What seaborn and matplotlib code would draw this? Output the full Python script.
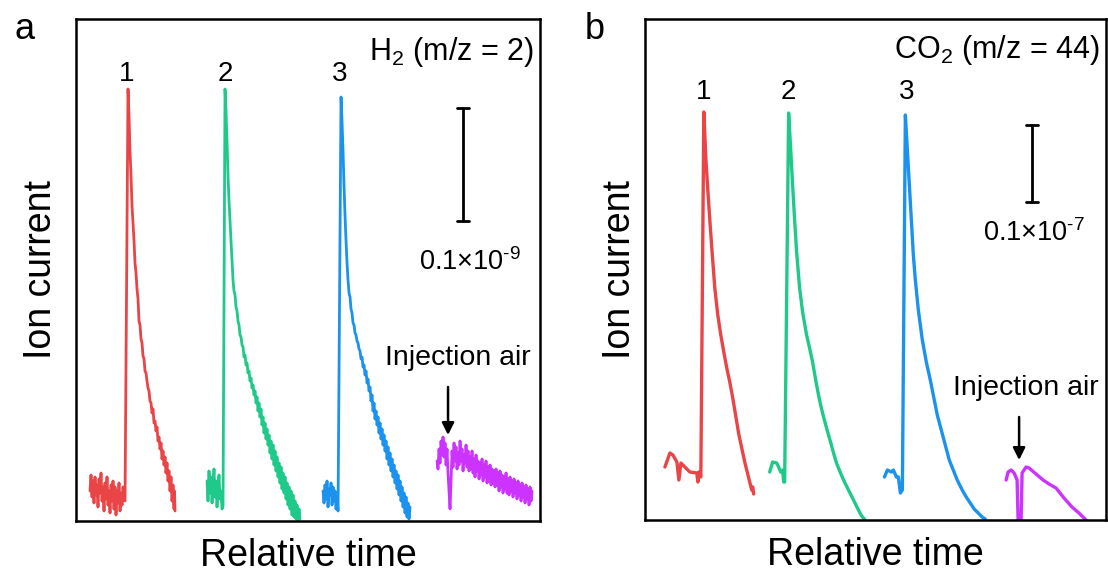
import numpy as np
import pandas as pd
import matplotlib
matplotlib.use("Agg")
import matplotlib.pyplot as plt
import seaborn as sns

# ── data (relative time, ion current; arbitrary units) ──
# panel a : H2
a_red_t = [14, 15, 16, 17, 18, 19, 20, 21, 22, 23, 24, 25, 26, 27, 28, 29, 30, 31, 32, 33,
           34, 35, 36, 37, 38, 39, 40, 41, 42, 43, 44, 45, 46, 47, 48, 49, 52,
           53, 54, 55, 56, 57, 58, 59, 60, 61, 62, 63, 64, 65, 66, 67, 68, 69, 70,
           71, 72, 73, 74, 75, 76, 77, 78, 79, 80, 81, 82, 83, 84, 85, 86, 87, 88,
           89, 90, 91, 92, 93, 94, 95, 96, 97, 98, 98.5, 99]
a_red_i = [30, 46, 24, 40, 18, 44, 26, 36, 14, 42, 28, 48, 20, 34, 10, 38, 22, 44, 16, 30,
           8, 36, 20, 40, 12, 34, 6, 30, 18, 38, 10, 28, 16, 34, 22, 20, 432,
           405, 370, 345, 315, 298, 280, 258, 248, 232, 222, 200, 196, 182, 178, 165, 162, 150, 148,
           140, 133, 130, 120, 118, 108, 112, 98, 100, 90, 94, 80, 84, 72, 78, 62, 70, 56,
           64, 48, 58, 40, 50, 30, 44, 20, 36, 12, 30, 10]

a_green_t = [131, 132, 133, 134, 135, 136, 137, 138, 139, 140, 141, 142, 143, 144, 145, 146,
             147, 149, 150, 151, 152, 153, 154, 155, 157, 158, 159, 160, 161, 162, 163, 164,
             165, 166, 167, 168, 169, 170, 171, 172, 173, 174, 175, 176, 177, 178, 179, 180,
             181, 182, 183, 184, 185, 186, 187, 188, 189, 190, 191, 192, 193, 194, 195, 196,
             197, 198, 199, 200, 201, 202, 203, 204, 205, 206, 207, 208, 209, 210, 211, 212,
             213, 214, 215, 216, 217, 218, 219, 220, 221, 222, 223, 224]
a_green_i = [40, 20, 50, 28, 44, 18, 36, 52, 24, 40, 14, 34, 46, 22, 30, 12,
             15, 432, 410, 380, 345, 320, 300, 280, 241, 230, 226, 214, 210, 200, 196, 186,
             184, 176, 174, 164, 166, 156, 158, 148, 150, 140, 143, 133, 136, 126, 130, 118,
             124, 110, 118, 104, 112, 96, 104, 88, 98, 82, 92, 76, 86, 68, 80, 62,
             76, 56, 70, 50, 64, 44, 58, 38, 54, 32, 48, 28, 44, 22, 38, 16,
             34, 12, 30, 6, 26, 4, 20, 2, 16, 0, 12, 2]

a_blue_t = [247, 248, 249, 250, 251, 252, 253, 254, 255, 256, 257, 258, 259, 260, 261,
            262, 265, 266, 267, 268, 269, 270, 271, 272, 273, 274, 275, 276, 277, 278, 279,
            280, 281, 282, 283, 284, 285, 286, 287, 288, 289, 290, 291, 292, 293, 294, 295,
            296, 297, 298, 299, 300, 301, 302, 303, 304, 305, 306, 307, 308, 309, 310, 311,
            312, 313, 314, 315, 316, 317, 318, 319, 320, 321, 322, 323, 324, 325, 326, 327,
            328, 329, 330, 331, 332, 333, 334]
a_blue_i = [30, 18, 36, 22, 40, 14, 32, 26, 38, 16, 34, 20, 30, 12, 24,
            10, 424, 400, 370, 335, 305, 280, 258, 241, 228, 224, 212, 208, 198, 196, 188,
            186, 180, 178, 172, 170, 162, 164, 154, 156, 146, 150, 138, 142, 130, 134, 120,
            126, 110, 118, 102, 110, 96, 104, 88, 98, 82, 92, 76, 86, 70, 80, 62,
            74, 56, 68, 50, 62, 44, 56, 38, 50, 32, 46, 26, 40, 20, 34, 14,
            28, 8, 24, 4, 18, 2, 14]

a_air_t = list(range(361, 457))
a_air_i = [60, 52, 72, 58, 80, 66, 84, 64, 78, 56, 72, 48, 30, 12, 40, 70, 54, 78, 60, 74,
           52, 68, 56, 80, 60, 72, 50, 66, 58, 76, 54, 70, 50, 64, 52, 70, 48, 62, 44, 66,
           50, 60, 42, 58, 46, 62, 40, 56, 44, 60, 38, 54, 40, 56, 36, 52, 38, 50, 34, 52,
           36, 48, 30, 50, 34, 46, 28, 44, 32, 48, 28, 42, 26, 44, 30, 40, 24, 42, 28, 38,
           22, 40, 26, 36, 20, 38, 24, 34, 18, 36, 22, 32, 16, 34, 20, 30]

# panel b : CO2
b_red_t = [20, 25, 28, 32, 34, 36, 40, 45, 52, 53, 54, 56, 59, 61, 63, 65, 67, 70, 73, 76,
           79, 82, 85, 88, 91, 94, 97, 100, 103, 105, 107, 108, 109]
b_red_i = [53, 67, 65, 58, 40, 57, 53, 48, 47, 38, 48, 43, 408, 362, 330, 300, 272, 232, 205, 185,
           168, 152, 138, 122, 104, 86, 72, 58, 46, 38, 30, 33, 26]

b_green_t = [125, 128, 132, 134, 136, 138, 139, 140, 144, 146, 148, 150, 152, 155, 158, 162,
             165, 168, 172, 175, 178, 182, 186, 189, 192, 196, 200, 204, 208, 211, 214, 216,
             218, 220]
b_green_i = [48, 58, 57, 53, 48, 50, 38, 38, 407, 372, 335, 300, 268, 232, 208, 185,
             172, 158, 135, 120, 107, 92, 78, 67, 57, 47, 38, 30, 22, 16, 10, 6,
             3, 1]

b_blue_t = [240, 243, 247, 249, 252, 254, 256, 258, 261, 263, 265, 267, 269, 271, 274, 278,
            282, 286, 290, 293, 297, 301, 305, 309, 313, 318, 322, 326, 330, 334, 338, 341]
b_blue_i = [43, 50, 48, 50, 43, 43, 27, 30, 405, 370, 335, 300, 265, 240, 210, 180,
            158, 140, 120, 105, 90, 75, 60, 50, 40, 30, 23, 17, 11, 7, 3, 1]

b_air_t = [362, 364, 367, 370, 373, 374, 377, 378, 382, 385, 392, 399, 405, 412, 420, 428,
           435, 442]
b_air_i = [40, 48, 50, 47, 40, 0, 0, 47, 53, 52, 46, 40, 36, 32, 22, 13, 7, 0]

peak_labels = ["1", "2", "3"]
a_peak_t = [51, 149, 264]
b_peak_t = [59, 144, 262]
colors = ["#E94446", "#1FC98A", "#1B93EE", "#CC33FF"]

sns.set_style("white", {"text.color": "black", "axes.labelcolor": "black",
                        "axes.edgecolor": "black"})
plt.rcParams["font.family"] = ["Liberation Sans", "DejaVu Sans"]
plt.rcParams["mathtext.fontset"] = "custom"
plt.rcParams["mathtext.rm"] = "Liberation Sans"
plt.rcParams["mathtext.it"] = "Liberation Sans"

fig = plt.figure(figsize=(11.08, 5.76), dpi=100)
ax_a = fig.add_axes([0.0686, 0.0955, 0.4188, 0.8715])
ax_b = fig.add_axes([0.5821, 0.0972, 0.4160, 0.8698])

panels = [
    (ax_a, [(a_red_t, a_red_i), (a_green_t, a_green_i), (a_blue_t, a_blue_i), (a_air_t, a_air_i)],
     (464, 502), a_peak_t, 447, "H$_2$ (m/z = 2)", (458, 469), (387, 300, 413),
     r"0.1×10$^{\text{-9}}$", (394, 259), (372, 134, 86), (382, 163), 2.0, 12),
    (ax_b, [(b_red_t, b_red_i), (b_green_t, b_green_i), (b_blue_t, b_blue_i), (b_air_t, b_air_i)],
     (462, 501), b_peak_t, 428, "CO$_2$ (m/z = 44)", (456, 470), (388, 318, 395),
     r"0.1×10$^{\text{-7}}$", (390, 287), (375, 103, 60), (382, 132), 2.4, 5),
]

for (ax, traces, lims, peak_t, peak_y, gas, gas_xy, bar, bar_lbl, bar_xy,
     arrow, air_xy, lw, ypad) in panels:
    for (t, i), c in zip(traces, colors):
        df = pd.DataFrame({"time": t, "current": i})
        sns.lineplot(data=df, x="time", y="current", sort=False, estimator=None,
                     color=c, lw=lw, ax=ax)
    ax.set_xlim(0, lims[0])
    ax.set_ylim(0, lims[1])
    ax.set_xticks([]); ax.set_yticks([])
    ax.set_xlabel("Relative time", fontsize=27, labelpad=12)
    ax.set_ylabel("Ion current", fontsize=27, labelpad=ypad)
    for s in ax.spines.values():
        s.set_color("black"); s.set_linewidth(1.8)

    for lbl, t in zip(peak_labels, peak_t):
        ax.text(t, peak_y, lbl, ha="center", va="center", fontsize=20)
    ax.text(gas_xy[0], gas_xy[1], gas, ha="right", va="center", fontsize=22)

    # scale bar
    bx, b0, b1 = bar
    ax.plot([bx, bx], [b0, b1], color="black", lw=2)
    ax.plot([bx - 6, bx + 6], [b0, b0], color="black", lw=2)
    ax.plot([bx - 6, bx + 6], [b1, b1], color="black", lw=2)
    ax.text(bar_xy[0], bar_xy[1], bar_lbl, ha="center", va="center", fontsize=19.5)

    # injection-air arrow
    ax.annotate("", xy=(arrow[0], arrow[2]), xytext=(arrow[0], arrow[1]),
                arrowprops=dict(arrowstyle="-|>", color="black", lw=1.8,
                                mutation_scale=18, shrinkA=0, shrinkB=0))
    ax.text(air_xy[0], air_xy[1], "Injection air", ha="center", va="center", fontsize=20.5)

fig.text(0.022, 0.948, "a", fontsize=26, ha="center", va="center")
fig.text(0.537, 0.948, "b", fontsize=26, ha="center", va="center")

fig.savefig("out.png", dpi=100)
